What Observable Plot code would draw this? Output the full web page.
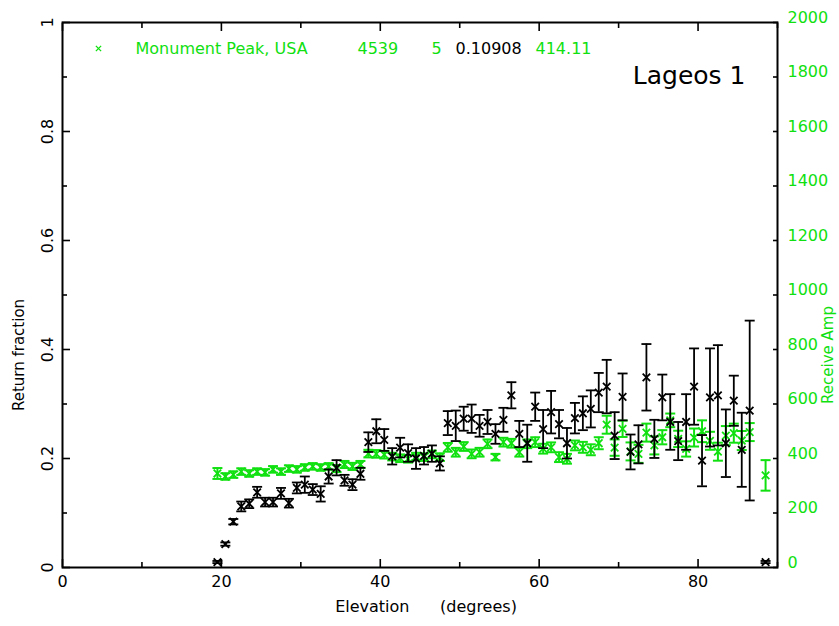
<!DOCTYPE html>
<html>
<head>
<meta charset="utf-8">
<script src="https://cdn.jsdelivr.net/npm/d3@7"></script>
<script src="https://cdn.jsdelivr.net/npm/@observablehq/plot@0.6"></script>
<style>
  html, body { margin: 0; padding: 0; background: white; }
</style>
</head>
<body>
<div id="chart"></div>
<script>
// ---- data ----
const elevation = [19.5,20.5,21.5,22.5,23.5,24.5,25.5,26.5,27.5,28.5,29.5,30.5,31.5,32.5,33.5,34.5,35.5,36.5,37.5,38.5,39.5,40.5,41.5,42.5,43.5,44.5,45.5,46.5,47.5,48.5,49.5,50.5,51.5,52.5,53.5,54.5,55.5,56.5,57.5,58.5,59.5,60.5,61.5,62.5,63.5,64.5,65.5,66.5,67.5,68.5,69.5,70.5,71.5,72.5,73.5,74.5,75.5,76.5,77.5,78.5,79.5,80.5,81.5,82.5,83.5,84.5,85.5,86.5,88.5];
const returnFraction = [0.010,0.043,0.084,0.112,0.117,0.138,0.120,0.120,0.136,0.118,0.146,0.152,0.143,0.135,0.167,0.183,0.160,0.152,0.172,0.230,0.250,0.234,0.204,0.220,0.210,0.200,0.205,0.209,0.191,0.265,0.260,0.273,0.273,0.260,0.267,0.245,0.271,0.316,0.245,0.228,0.295,0.254,0.285,0.263,0.228,0.274,0.283,0.291,0.321,0.332,0.242,0.313,0.212,0.226,0.349,0.236,0.312,0.267,0.232,0.267,0.332,0.196,0.312,0.316,0.228,0.306,0.216,0.288,0.010];
const returnError = [0.002,0.003,0.005,0.009,0.008,0.010,0.008,0.008,0.010,0.008,0.010,0.015,0.010,0.014,0.013,0.014,0.010,0.010,0.011,0.018,0.022,0.020,0.015,0.018,0.016,0.019,0.016,0.015,0.013,0.022,0.028,0.022,0.026,0.020,0.022,0.018,0.022,0.024,0.024,0.034,0.026,0.035,0.039,0.026,0.028,0.028,0.031,0.034,0.036,0.049,0.043,0.043,0.032,0.035,0.061,0.035,0.042,0.051,0.035,0.051,0.070,0.047,0.090,0.092,0.062,0.046,0.068,0.165,0.002];
const receiveAmp = [345,334,341,352,345,352,349,360,352,363,360,367,371,367,371,363,378,371,378,418,417,414,407,401,399,407,405,415,405,441,423,444,417,423,454,405,460,456,423,454,460,436,441,405,399,448,441,432,456,524,440,509,426,417,495,448,478,540,472,435,477,500,465,425,484,493,466,497,338];
const receiveAmpError = [20,12,12,12,12,12,12,12,12,12,12,12,12,12,12,13,13,13,13,14,14,14,14,14,14,14,14,14,14,16,16,16,16,16,16,12,16,16,16,16,18,18,18,18,18,18,20,20,22,33,30,30,33,33,33,33,26,25,30,28,33,40,33,33,35,35,35,33,56];

const xMajorTicks = [0, 20, 40, 60, 80];
const xMinorTicks = [10, 30, 50, 70, 90];
const yMajorTicks = [0, 0.2, 0.4, 0.6, 0.8, 1];
const yMinorTicks = [0.1, 0.3, 0.5, 0.7, 0.9];
const ampTicks = [0, 200, 400, 600, 800, 1000, 1200, 1400, 1600, 1800, 2000];

const stationName = "Monument Peak, USA";
const stationId = "4539";
const headerCount = "5";
const headerFraction = "0.10908";
const headerAmp = "414.11";
const satellite = "Lageos 1";
const xLabel = "Elevation\u00a0\u00a0\u00a0\u00a0\u00a0\u00a0(degrees)";
const yLabel = "Return fraction";
const y2Label = "Receive Amp";

// ---- build ----
const GREEN = "#10e010";
const ampToY = d3.scaleLinear([0, 2000], [0, 1]);
const rows = elevation.map((e, i) => ({
  e, f: returnFraction[i], fe: returnError[i], a: receiveAmp[i], ae: receiveAmpError[i]
}));
const cap = { draw(ctx, size) { const w = Math.sqrt(size / Math.PI); ctx.moveTo(-w, 0); ctx.lineTo(w, 0); } };
const tickOpts = { tickFormat: () => "", label: null, strokeWidth: 1.6 };

const chart = Plot.plot({
  width: 839, height: 626,
  marginLeft: 62, marginRight: 62, marginTop: 22, marginBottom: 59,
  x: { domain: [0, 90] },
  y: { domain: [0, 1] },
  style: { fontFamily: "'DejaVu Sans', sans-serif", fontSize: "15px", background: "white", color: "black" },
  marks: [
    // green series (receive amp)
    Plot.ruleX(rows, { x: "e", y1: d => ampToY(d.a - d.ae), y2: d => ampToY(d.a + d.ae), stroke: GREEN, strokeWidth: 2 }),
    Plot.dot(rows, { x: "e", y: d => ampToY(d.a - d.ae), symbol: cap, r: 5, stroke: GREEN, strokeWidth: 2 }),
    Plot.dot(rows, { x: "e", y: d => ampToY(d.a + d.ae), symbol: cap, r: 5, stroke: GREEN, strokeWidth: 2 }),
    Plot.dot(rows, { x: "e", y: d => ampToY(d.a), symbol: "times", r: 3.5, stroke: GREEN, strokeWidth: 1.8 }),
    // black series (return fraction)
    Plot.ruleX(rows, { x: "e", y1: d => d.f - d.fe, y2: d => d.f + d.fe, stroke: "black", strokeWidth: 1.8 }),
    Plot.dot(rows, { x: "e", y: d => d.f - d.fe, symbol: cap, r: 5, stroke: "black", strokeWidth: 1.8 }),
    Plot.dot(rows, { x: "e", y: d => d.f + d.fe, symbol: cap, r: 5, stroke: "black", strokeWidth: 1.8 }),
    Plot.dot(rows, { x: "e", y: "f", symbol: "times", r: 3.5, stroke: "black", strokeWidth: 1.8 }),

    // frame
    Plot.frame({ stroke: "black", strokeWidth: 2 }),

    // inward ticks (positive size, shifted inside the frame)
    Plot.axisX(xMajorTicks, { anchor: "bottom", tickSize: 8, dy: -8, ...tickOpts }),
    Plot.axisX(xMinorTicks, { anchor: "bottom", tickSize: 5, dy: -5, ...tickOpts }),
    Plot.axisX(xMajorTicks, { anchor: "top", tickSize: 8, dy: 8, ...tickOpts }),
    Plot.axisX(xMinorTicks, { anchor: "top", tickSize: 5, dy: 5, ...tickOpts }),
    Plot.axisY(yMajorTicks, { anchor: "left", tickSize: 8, dx: 8, ...tickOpts }),
    Plot.axisY(yMinorTicks, { anchor: "left", tickSize: 5, dx: 5, ...tickOpts }),
    Plot.axisY(ampTicks, { y: ampToY, anchor: "right", tickSize: 5, dx: -5, ...tickOpts }),

    // tick labels
    Plot.axisX(xMajorTicks, { anchor: "bottom", tickSize: 0, tickPadding: 8, label: null, fontSize: 16 }),
    Plot.axisY(yMajorTicks, { anchor: "left", tickSize: 0, tickPadding: 10, tickRotate: -90, label: null, fontSize: 16, tickFormat: d => String(d) }),
    Plot.axisY(ampTicks, { y: ampToY, anchor: "right", tickSize: 0, tickPadding: 10, dy: -5, label: null, fill: GREEN, fontSize: 16, tickFormat: d => String(d) }),

    // axis titles
    Plot.text([yLabel], { text: d => d, frameAnchor: "left", textAnchor: "middle", dx: -43, dy: 60, rotate: -90, fontSize: 15 }),
    Plot.text([y2Label], { text: d => d, frameAnchor: "right", textAnchor: "middle", dx: 51, dy: 60, rotate: -90, fontSize: 15, fill: GREEN }),
    Plot.text([xLabel], { text: d => d, frameAnchor: "bottom", textAnchor: "middle", dx: 6, dy: 44, fontSize: 16 }),

    // header
    Plot.dot([stationName], { frameAnchor: "top-left", dx: 36, dy: 26, symbol: "times", r: 2.5, stroke: GREEN, strokeWidth: 1.3 }),
    Plot.text([stationName], { text: d => d, frameAnchor: "top-left", dx: 73, dy: 20, textAnchor: "start", fill: GREEN, fontSize: 16 }),
    Plot.text([stationId], { text: d => d, frameAnchor: "top-left", dx: 295, dy: 20, textAnchor: "start", fill: GREEN, fontSize: 16 }),
    Plot.text([headerCount], { text: d => d, frameAnchor: "top-left", dx: 369, dy: 20, textAnchor: "start", fill: GREEN, fontSize: 16 }),
    Plot.text([headerFraction], { text: d => d, frameAnchor: "top-left", dx: 393, dy: 20, textAnchor: "start", fill: "black", fontSize: 16 }),
    Plot.text([headerAmp], { text: d => d, frameAnchor: "top-left", dx: 473, dy: 20, textAnchor: "start", fill: GREEN, fontSize: 16 }),
    Plot.text([satellite], { text: d => d, frameAnchor: "top-right", dx: -32, dy: 44, textAnchor: "end", fill: "black", fontSize: 25 })
  ]
});
document.getElementById("chart").appendChild(chart);
</script>
</body>
</html>
